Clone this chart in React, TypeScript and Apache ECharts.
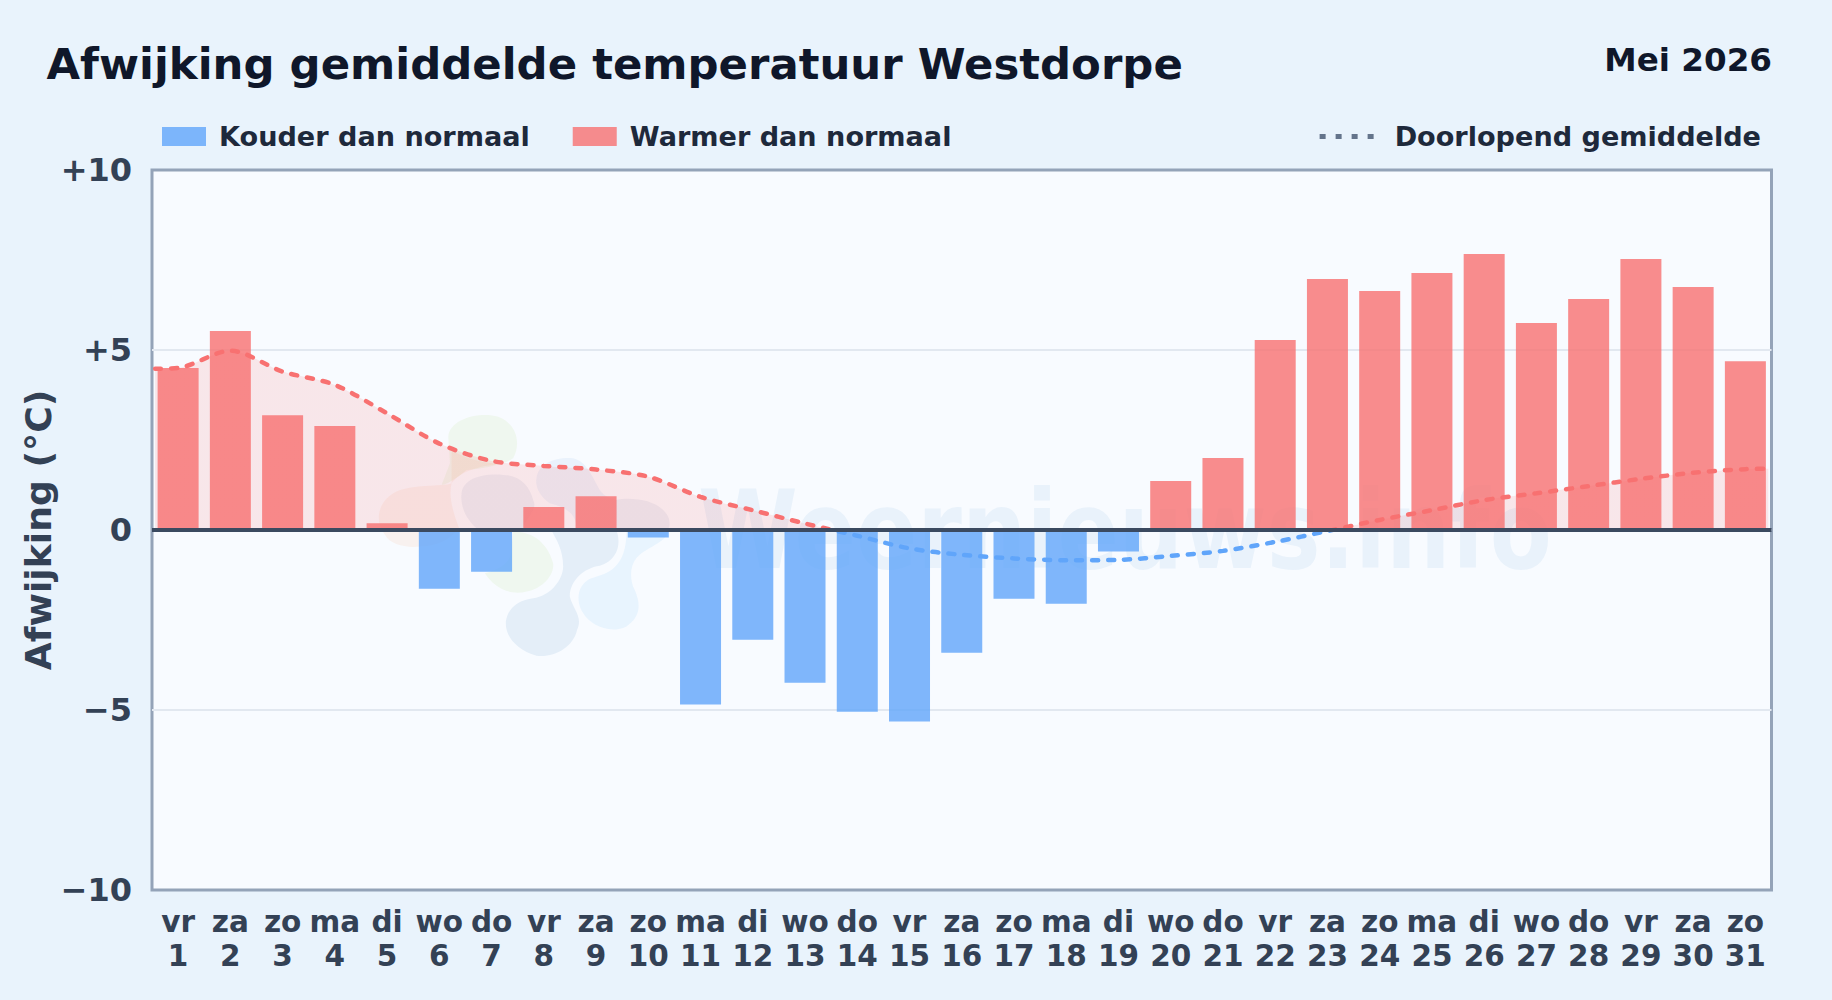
import React, { useEffect, useRef } from "react";
import * as echarts from "echarts";

const FONT = '"DejaVu Sans", sans-serif';
const TITLE = "Afwijking gemiddelde temperatuur Westdorpe";
const PERIOD = "Mei 2026";
const COLD_NAME = "Kouder dan normaal";
const WARM_NAME = "Warmer dan normaal";
const MEAN_NAME = "Doorlopend gemiddelde";
const Y_NAME = "Afwijking (°C)";
const WATERMARK = "Weernieuws.info";

const weekdays = ["vr","za","zo","ma","di","wo","do","vr","za","zo","ma","di","wo","do","vr","za","zo","ma","di","wo","do","vr","za","zo","ma","di","wo","do","vr","za","zo"];
const days = ["1","2","3","4","5","6","7","8","9","10","11","12","13","14","15","16","17","18","19","20","21","22","23","24","25","26","27","28","29","30","31"];
const deviations = [4.5,5.53,3.19,2.89,0.19,-1.63,-1.16,0.64,0.94,-0.21,-4.85,-3.05,-4.24,-5.05,-5.32,-3.41,-1.91,-2.05,-0.6,1.36,2.0,5.28,6.97,6.64,7.14,7.67,5.75,6.42,7.53,6.75,4.69];
// running mean: position on the day scale, value
const runningDays = [0.56,1,2,3,4,5,6,7,8,9,10,11,12,13,14,15,16,17,18,19,20,21,22,23,24,25,26,27,28,29,30,31,31.44];
const runningMean = [4.48,4.5,4.98,4.4,4.03,3.24,2.4,1.92,1.78,1.68,1.48,0.92,0.55,0.18,-0.16,-0.51,-0.69,-0.79,-0.84,-0.83,-0.72,-0.58,-0.33,-0.03,0.28,0.55,0.83,1.02,1.22,1.42,1.59,1.69,1.7];

const logoShapes: [string, string][] = [
  ["M235,110 C240,55 330,35 385,50 C440,70 455,130 430,175 C400,195 340,205 290,210 C265,230 240,250 215,255 L240,190 Z", "rgba(132,204,22,0.07)"],
  ["M245,150 C290,180 350,190 400,192 C330,195 270,215 245,250 C220,262 120,250 70,280 C20,310 15,370 45,405 C60,435 110,445 150,440 C200,440 240,420 268,385 C250,340 235,290 245,250 Z", "rgba(249,115,22,0.07)"],
  ["M275,280 C280,235 340,220 400,225 C450,225 480,260 490,300 C505,330 470,350 460,385 L320,385 C290,360 270,320 275,280 Z", "rgba(59,90,140,0.07)"],
  ["M430,395 C480,395 530,420 550,490 C555,530 510,570 470,575 C420,590 370,560 345,520 C400,505 430,480 425,440 Z", "rgba(132,204,22,0.07)"],
  ["M545,392 L740,392 C755,430 745,480 690,498 C640,505 600,545 600,590 C610,630 640,650 622,690 C610,745 550,775 500,768 C440,750 405,710 408,665 C415,620 450,600 490,595 C540,590 580,540 580,500 C580,450 560,420 545,392 Z", "rgba(59,130,190,0.1)"],
  ["M500,235 C505,190 560,170 610,175 C650,185 665,225 690,270 C705,290 720,296 740,300 L740,385 L620,385 C620,350 600,325 540,310 C510,290 495,260 500,235 Z", "rgba(56,130,210,0.07)"],
  ["M738,300 C790,290 870,300 895,350 C902,365 900,385 895,385 L740,385 Z", "rgba(59,90,140,0.07)"],
  ["M770,395 L895,395 C890,425 840,440 810,465 C780,490 780,530 790,560 C815,610 815,650 770,680 C720,705 660,675 640,640 C615,600 625,550 665,535 C720,520 770,500 770,395 Z", "rgba(56,160,240,0.08)"],
];
logoShapes.forEach(([d], i) => {
  echarts.graphic.registerShape("logoBlob" + i, echarts.graphic.extendPath(d, {}));
});

export default function App() {
  const ref = useRef<HTMLDivElement>(null);
  useEffect(() => {
    document.body.style.margin = "0";
    const chart = echarts.init(ref.current!, undefined, { renderer: "svg" });
    const zeroFraction = 0.5;
    chart.setOption({
      animation: false,
      backgroundColor: "#e9f3fc",
      textStyle: { fontFamily: FONT },
      title: [
        { text: TITLE, left: 41.5, top: 37.5, textStyle: { fontFamily: FONT, fontSize: 43.4, fontWeight: "bold", color: "#0f172a" } },
        { text: PERIOD, right: 55, top: 38.5, textStyle: { fontFamily: FONT, fontSize: 32.6, fontWeight: "bold", color: "#0f172a" } },
      ],
      legend: [
        {
          data: [COLD_NAME, WARM_NAME], left: 157, top: 118, itemWidth: 44, itemHeight: 19, itemGap: 43,
          icon: "rect", textStyle: { fontFamily: FONT, fontSize: 27.1, fontWeight: "bold", color: "#1e293b", padding: [0, 0, 0, 8] },
        },
        {
          data: [{ name: MEAN_NAME, itemStyle: { opacity: 0 }, lineStyle: { color: "#64748b", width: 5, type: [6, 10], cap: "butt" } }],
          right: 66, top: 118, itemWidth: 55, itemHeight: 19,
          textStyle: { fontFamily: FONT, fontSize: 27.1, fontWeight: "bold", color: "#1e293b", padding: [0, 0, 0, 15] },
        },
      ],
      grid: { left: 152, right: 60.5, top: 170, bottom: 110, show: true, backgroundColor: "#f8fbff", borderColor: "#94a3b8", borderWidth: 3 },
      xAxis: [
        {
          type: "category", data: days.map((d, i) => weekdays[i] + "\n" + d), boundaryGap: true,
          axisLine: { show: false, onZero: false }, axisTick: { show: false },
          axisLabel: { interval: 0, margin: 15, hideOverlap: false, fontFamily: FONT, fontSize: 29.5, fontWeight: "bold", color: "#334155", lineHeight: 34 },
        },
        { type: "value", min: 0.5, max: 31.5, show: false, splitLine: { show: false } },
      ],
      yAxis: {
        type: "value", min: -10, max: 10, interval: 5,
        name: Y_NAME, nameLocation: "middle", nameGap: 96, nameRotate: 90, nameMoveOverlap: false,
        nameTextStyle: { fontFamily: FONT, fontSize: 36.2, fontWeight: "bold", color: "#334155" },
        axisLine: { show: false }, axisTick: { show: false },
        splitLine: { showMinLine: false, showMaxLine: false, lineStyle: { color: "#e2e8f0", width: 2 } },
        axisLabel: {
          margin: 20, fontFamily: FONT, fontSize: 32, fontWeight: "bold", color: "#334155",
          formatter: (v: number) => (v > 0 ? "+" + v : v < 0 ? "\u2212" + Math.abs(v) : "0"),
        },
      },
      series: [
        {
          name: COLD_NAME, type: "bar", barWidth: 41, barGap: "-100%",
          itemStyle: { color: "rgba(96,165,250,0.8)" },
          data: deviations.map((v) => (v < 0 ? v : null)),
          markLine: {
            silent: true, symbol: "none", label: { show: false }, z: 5,
            lineStyle: { color: "#3b4a60", width: 4, type: "solid" }, data: [{ yAxis: 0 }],
          },
        },
        {
          name: WARM_NAME, type: "bar", barWidth: 41, barGap: "-100%",
          itemStyle: { color: "rgba(248,113,113,0.8)" },
          data: deviations.map((v) => (v >= 0 ? v : null)),
        },
        {
          name: MEAN_NAME, type: "line", xAxisIndex: 1, z: 4, symbol: "none", smooth: 0.3,
          data: runningDays.map((d, i) => [d, runningMean[i]]),
          lineStyle: {
            width: 4.5, type: [6, 10], cap: "round",
            color: new echarts.graphic.LinearGradient(0, 170, 0, 890, [
              { offset: 0, color: "#f87171" },
              { offset: zeroFraction, color: "#f87171" },
              { offset: zeroFraction, color: "#60a5fa" },
              { offset: 1, color: "#60a5fa" },
            ], true),
          },
          areaStyle: {
            opacity: 1,
            color: new echarts.graphic.LinearGradient(0, 170, 0, 890, [
              { offset: 0, color: "rgba(248,113,113,0.15)" },
              { offset: zeroFraction, color: "rgba(248,113,113,0.15)" },
              { offset: zeroFraction, color: "rgba(248,113,113,0)" },
              { offset: 1, color: "rgba(248,113,113,0)" },
            ], true),
          },
        },
      ],
      graphic: [
        {
          type: "group", x: 370, y: 400, scaleX: 1 / 3, scaleY: 1 / 3, z: 1, silent: true,
          children: logoShapes.map(([, fill], i) => ({ type: "logoBlob" + i, z: 1, style: { fill } })),
        },
        {
          type: "text", x: 698, y: 531, scaleY: 1.2, z: 1, silent: true,
          style: { text: WATERMARK, font: `bold 90.5px ${FONT}`, fill: "rgba(59,140,200,0.08)", textVerticalAlign: "middle" },
        },
      ],
    });
    return () => chart.dispose();
  }, []);
  return <div ref={ref} style={{ width: 1832, height: 1000 }} />;
}
